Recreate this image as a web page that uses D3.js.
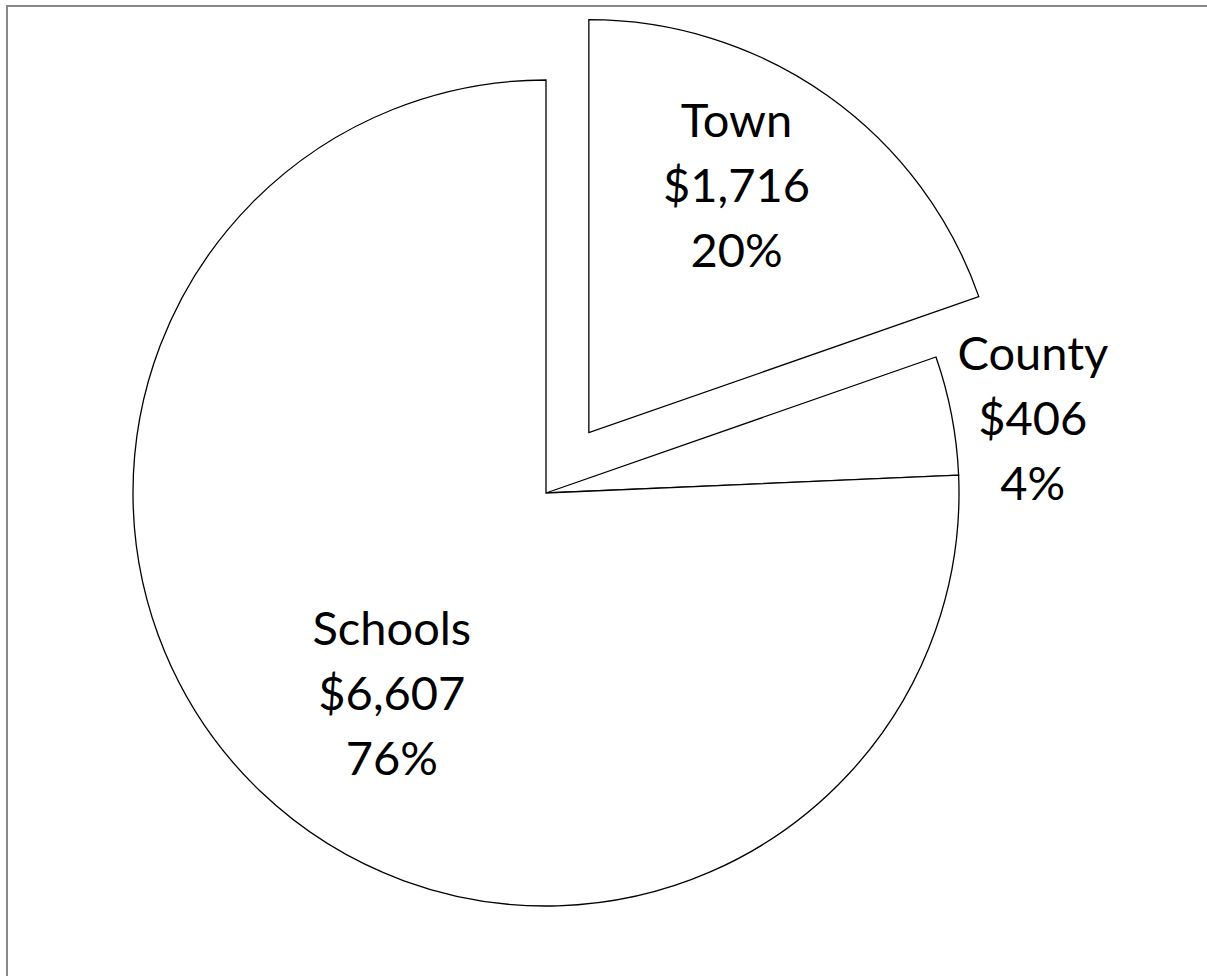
<!DOCTYPE html>
<html>
<head>
<meta charset="utf-8">
<script src="https://cdn.jsdelivr.net/npm/d3@7"></script>
<style>
  body { margin: 0; background: #fff; }
  text { font-family: Lato, "Open Sans", sans-serif; fill: #000; }
</style>
</head>
<body>
<div id="chart-area"><svg></svg></div>
<script>
const names = ["Town", "County", "Schools"];
const amounts = [1716, 406, 6607];
const amountLabels = ["$1,716", "$406", "$6,607"];
const percentLabels = ["20%", "4%", "76%"];

const chartSize = { width: 1207, height: 976 };
const center = { x: 546, y: 493 };
const radius = 413;
const explode = { Town: 74, County: 0, Schools: 0 };
// where each label sits: fraction of radius and angle nudge (degrees)
const labelPlace = {
  Town: { r: 0.664, nudge: -2.8 },
  County: { r: 1.187, nudge: 4.1 },
  Schools: { r: 0.645, nudge: -8.4 }
};

const rad = deg => (deg * Math.PI) / 180;

const main = () => {
  const svg = d3.select("#chart-area svg")
    .attr("width", chartSize.width)
    .attr("height", chartSize.height);

  svg.append("rect")
    .attr("x", 7)
    .attr("y", 6)
    .attr("width", chartSize.width + 20)
    .attr("height", chartSize.height + 20)
    .attr("fill", "none")
    .attr("stroke", "#888")
    .attr("stroke-width", 2);

  const slices = names.map((name, i) => ({
    name,
    amount: amounts[i],
    amountLabel: amountLabels[i],
    percentLabel: percentLabels[i]
  }));

  const pie = d3.pie().sort(null).value(d => d.amount);
  const arc = d3.arc().innerRadius(0).outerRadius(radius);

  const g = svg.append("g")
    .attr("transform", `translate(${center.x}, ${center.y})`);

  const arcs = pie(slices);

  const sliceG = g.selectAll(".slice")
    .data(arcs)
    .join("g")
    .attr("class", "slice")
    .attr("transform", d => {
      const mid = (d.startAngle + d.endAngle) / 2;
      const [dx, dy] = d3.pointRadial(mid, explode[d.data.name]);
      return `translate(${dx}, ${dy})`;
    });

  sliceG.append("path")
    .attr("d", arc)
    .attr("fill", "#fff")
    .attr("stroke", "#000")
    .attr("stroke-width", 1.3)
    .attr("stroke-linejoin", "miter");

  const labels = sliceG.append("text")
    .attr("text-anchor", "middle")
    .attr("font-size", 47)
    .attr("transform", d => {
      const p = labelPlace[d.data.name];
      const mid = (d.startAngle + d.endAngle) / 2 + rad(p.nudge);
      const [x, y] = d3.pointRadial(mid, radius * p.r);
      return `translate(${x}, ${y})`;
    });

  labels.append("tspan").attr("x", 0).attr("y", -65).text(d => d.data.name);
  labels.append("tspan").attr("x", 0).attr("y", 0).text(d => d.data.amountLabel);
  labels.append("tspan").attr("x", 0).attr("y", 65).text(d => d.data.percentLabel);
};

window.onload = main;
</script>
</body>
</html>
